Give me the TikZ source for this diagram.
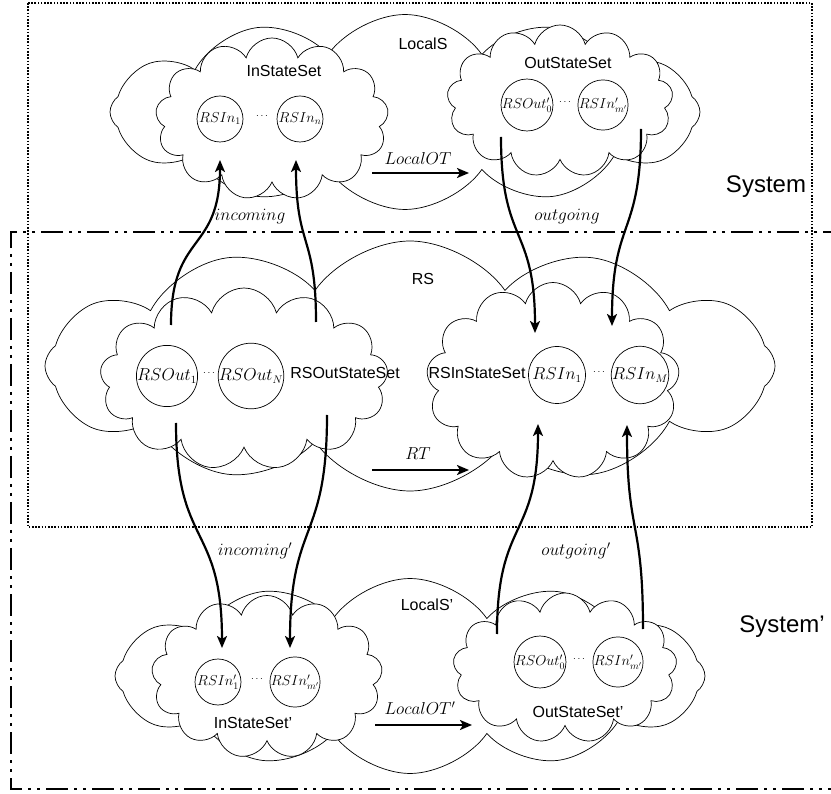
\documentclass[tikz,border=0pt]{standalone}
\usepackage{fontspec}
\setmainfont{Liberation Sans}
\usetikzlibrary{shapes.symbols,arrows.meta}
\begin{document}
\begin{tikzpicture}[x=1pt,y=-1pt,
  bigcloud/.style={cloud, cloud puffs=12, cloud puff arc=110, cloud ignores aspect, draw, fill=white, line width=0.7pt, inner sep=0pt},
  setcloud/.style={cloud, cloud puffs=13, cloud ignores aspect, draw, fill=white, line width=0.7pt, inner sep=0pt},
  elem/.style={circle, draw, fill=white, line width=0.7pt, minimum size=46pt, inner sep=0pt, font=\fontsize{14}{16}\selectfont},
  bigelem/.style={elem, minimum size=57pt, font=\fontsize{16}{18}\selectfont},
  flow/.style={line width=2.2pt, -{Stealth[length=12pt,width=10pt,inset=3pt]}},
  lbl/.style={font=\fontsize{16}{18}\selectfont, inner sep=0pt},
  mlbl/.style={font=\fontsize{16.5}{18}\selectfont, inner sep=0pt},
  syslbl/.style={font=\fontsize{24}{27}\selectfont, inner sep=0pt},
  dotbox/.style={line width=1.6pt, dash pattern=on 1.6pt off 1.6pt},
  dashdotbox/.style={line width=2pt, dash pattern=on 22pt off 6pt on 3pt off 6pt on 3pt off 6pt}
]
\useasboundingbox (0,0) rectangle (831,794);
\clip (0,0) rectangle (831,794);

% boxes
\draw[dotbox] (28,3) rectangle (812,527);
\draw[dashdotbox] (845,232) -- (11,232) -- (11,789) -- (845,789);

% ---------- top: LocalS ----------
\node[bigcloud, minimum width=590pt, minimum height=195pt] (localS) at (405,112) {};
\node[setcloud, minimum width=233pt, minimum height=162pt] (inSet) at (272,119) {};
\node[setcloud, minimum width=226pt, minimum height=152pt] (outSet) at (560,101) {};
\node[lbl] (localSl) at (423,44) {LocalS};
\node[lbl] (inSetl) at (284,71) {InStateSet};
\node[lbl] (outSetl) at (568,63) {OutStateSet};
\node[elem] (rsin1) at (220,119) {$RSIn_1$};
\node[elem] (rsinn) at (300,119) {$RSIn_n$};
\node (dots1) at (262,116) {$\cdots$};
\node[elem] (rsoutp0) at (527,105) {$RSOut'_0$};
\node[elem] (rsinpm) at (603,105) {$RSIn'_{m'}$};
\node (dots2) at (565,102) {$\cdots$};

% ---------- middle: RS ----------
\node[bigcloud, minimum width=730pt, minimum height=250pt] (rs) at (410,366) {};
\node[setcloud, minimum width=288pt, minimum height=182pt] (rsOut) at (244,379) {};
\node[setcloud, minimum width=253pt, minimum height=197pt] (rsIn) at (553,381) {};
\node[lbl] (rsl) at (423,279) {RS};
\node[lbl] (rsOutl) at (345,373) {RSOutStateSet};
\node[lbl] (rsInl) at (477,373) {RSInStateSet};
\node[bigelem] (rsout1) at (167,376) {$RSOut_1$};
\node[bigelem] (rsoutN) at (251,376) {$RSOut_N$};
\node (dots3) at (209,373) {$\cdots$};
\node[bigelem] (rsinA) at (557,375) {$RSIn_1$};
\node[bigelem] (rsinM) at (640,375) {$RSIn_M$};
\node (dots4) at (599,372) {$\cdots$};

% ---------- bottom: LocalS' ----------
\node[bigcloud, minimum width=590pt, minimum height=195pt] (localSp) at (410,676) {};
\node[setcloud, minimum width=231pt, minimum height=163pt] (inSetp) at (267,677) {};
\node[setcloud, minimum width=224pt, minimum height=150pt] (outSetp) at (565,668) {};
\node[lbl] (localSpl) at (427,605) {LocalS'};
\node[lbl] (inSetpl) at (253,723) {InStateSet'};
\node[lbl] (outSetpl) at (578,712) {OutStateSet'};
\node[elem] (rsinp1) at (218,682) {$RSIn'_1$};
\node[elem] (rsinpm2) at (295,682) {$RSIn'_{m'}$};
\node (dots5) at (257,679) {$\cdots$};
\node[elem] (rsoutp0b) at (540,662) {$RSOut'_0$};
\node[elem] (rsinpm3) at (618,662) {$RSIn'_{m'}$};
\node (dots6) at (579,659) {$\cdots$};

% system labels
\node[syslbl] (sys) at (766,187) {System};
\node[syslbl] (sysp) at (782,627) {System'};

% ---------- arrow end points ----------
\coordinate (incAs) at (171,325);  \coordinate (incAe) at (220,160);
\coordinate (incBs) at (316,322);  \coordinate (incBe) at (296,160);
\coordinate (outAs) at (501,137);  \coordinate (outAe) at (535,333);
\coordinate (outBs) at (641,129);  \coordinate (outBe) at (612,326);
\coordinate (incpAs) at (176,423); \coordinate (incpAe) at (222,648);
\coordinate (incpBs) at (327,415); \coordinate (incpBe) at (290,648);
\coordinate (outpAs) at (497,634); \coordinate (outpAe) at (538,424);
\coordinate (outpBs) at (643,629); \coordinate (outpBe) at (627,425);
\coordinate (lotS) at (372,173);   \coordinate (lotE) at (469,173);
\coordinate (rtS) at (372,470);    \coordinate (rtE) at (469,470);
\coordinate (lotpS) at (375,725);  \coordinate (lotpE) at (472,725);

% vertical flows
\draw[flow] (incAs) to[out=90,in=-90,looseness=1.4] (incAe);
\draw[flow] (incBs) to[out=90,in=-90,looseness=1.4] (incBe);
\draw[flow] (outAs) to[out=-90,in=90,looseness=1.4] (outAe);
\draw[flow] (outBs) to[out=-90,in=90,looseness=1.4] (outBe);
\draw[flow] (incpAs) to[out=-90,in=90,looseness=1.4] (incpAe);
\draw[flow] (incpBs) to[out=-90,in=90,looseness=1.4] (incpBe);
\draw[flow] (outpAs) to[out=90,in=-90,looseness=1.4] (outpAe);
\draw[flow] (outpBs) to[out=90,in=-90,looseness=1.4] (outpBe);

% horizontal transitions
\draw[flow] (lotS) -- (lotE);
\draw[flow] (rtS) -- (rtE);
\draw[flow] (lotpS) -- (lotpE);

% flow labels
\node[mlbl] (incl) at (250,217) {$incoming$};
\node[mlbl] (outl) at (567,217) {$outgoing$};
\node[mlbl] (incpl) at (255,551) {$incoming'$};
\node[mlbl] (outpl) at (576,551) {$outgoing'$};
\node[mlbl] (lotl) at (418,159) {$LocalOT$};
\node[mlbl] (rtl) at (418,454) {$RT$};
\node[mlbl] (lotpl) at (420,708) {$LocalOT'$};
\end{tikzpicture}
\end{document}
